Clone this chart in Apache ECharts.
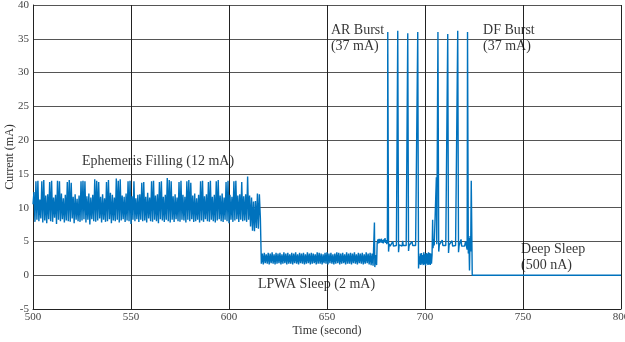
<!DOCTYPE html>
<html><head><meta charset="utf-8">
<script src="https://cdn.jsdelivr.net/npm/echarts@6/dist/echarts.min.js"></script>
<style>html,body{margin:0;padding:0;background:#fff}#c{width:625px;height:342px}</style>
</head><body><div id="c"></div>
<script>
// Tick labels
const xTicks = [500, 550, 600, 650, 700, 750, 800];
const yTicks = [-5, 0, 5, 10, 15, 20, 25, 30, 35, 40];

const ephemerisStart = 500, ephemerisStep = 0.5;
const ephemerisMA = [
10.5,12.3,7.9,13.9,8.2,14.0,8.0,11.2,8.4,13.9,7.8,14.1,
8.1,11.8,7.7,12.0,8.3,13.8,8.0,14.0,7.9,11.5,8.5,11.9,
7.6,14.0,8.2,13.9,8.0,12.1,8.3,11.4,7.8,11.9,8.1,13.8,
8.0,14.1,7.9,13.7,8.4,11.6,7.7,12.0,8.2,11.3,8.0,11.8,
7.9,13.9,8.1,14.0,8.3,13.9,7.8,11.7,8.2,12.1,7.5,11.5,
8.3,11.9,8.0,14.2,7.9,14.0,8.1,13.8,8.4,11.6,7.8,12.0,
8.2,11.4,7.9,13.8,8.0,14.1,8.3,12.2,7.7,11.9,8.1,11.5,
8.0,14.3,8.2,14.0,7.8,14.2,8.1,11.8,8.3,11.6,7.9,12.1,
8.1,13.9,8.0,14.0,7.6,11.7,8.2,13.9,8.0,11.4,8.3,11.9,
7.9,12.0,8.2,13.7,8.0,13.8,8.1,11.6,7.8,12.2,8.4,11.5,
8.0,13.9,7.9,14.0,8.2,11.8,8.0,12.0,7.7,13.8,8.3,13.9,
8.1,11.6,7.9,11.9,8.2,14.4,8.0,14.1,7.8,13.9,8.2,11.7,
7.9,12.0,8.3,11.5,8.0,13.8,7.9,14.0,8.2,11.9,8.1,11.6,
7.8,13.9,8.2,14.1,8.0,13.7,8.3,11.8,7.9,12.1,8.0,11.4,
8.2,11.9,7.8,13.9,8.1,14.0,7.9,11.7,8.3,12.0,8.0,13.8,
7.9,14.0,8.2,11.6,8.0,11.9,7.8,13.9,8.1,14.1,8.3,11.8,
8.0,12.1,7.9,11.5,8.2,13.8,8.0,14.0,7.7,11.9,8.2,11.6,
7.9,13.9,8.1,14.0,8.3,11.8,7.9,12.0,8.2,13.8,8.0,11.7,
8.1,12.0,7.9,14.6,8.2,11.8,7.2,11.5,6.6,10.9,6.5,11.0,
7.0,12.1,6.9,12.0,8.5
];

// LPWA sleep: sampled every 0.5 s from 616.5 s
const lpwaStart = 616.5, lpwaStep = 0.5;
const lpwaMA = [
1.7,3.2,1.6,3.3,1.8,3.1,1.7,3.3,1.6,3.2,
1.8,3.4,1.7,3.1,1.6,3.3,1.7,3.2,1.8,3.3,
1.6,3.1,1.7,3.4,1.8,3.2,1.6,3.3,1.7,3.1,
1.7,3.3,1.6,3.2,1.8,3.4,1.7,3.1,1.6,3.3,
1.8,3.2,1.7,3.3,1.6,3.1,1.7,3.4,1.8,3.2,
1.6,3.3,1.7,3.2,1.8,3.1,1.6,3.4,1.7,3.3,
1.7,3.2,1.6,3.1,1.8,3.3,1.7,3.4,1.6,3.2,
1.8,3.3,1.7,3.1,1.6,3.2,1.7,3.4,1.8,3.3,
1.6,3.2,1.7,3.3,1.8,3.1,1.6,3.4,1.7,3.2,
1.7,3.3,1.6,3.2,1.8,3.4,1.7,3.1,1.6,3.3,
1.8,3.2,1.7,3.3,1.6,3.1,1.7,3.4,1.8,3.2,
1.6,3.3,1.5,3.2,1.4
];

// Bursts and deep sleep: explicit (time s, current mA) readings
const burstTimes = [
674.0,674.2,674.4,674.8,675.3,675.6,676.0,676.3,676.6,676.9,677.2,677.5,677.8,678.1,678.4,678.7,679.0,679.3,679.6,679.9,680.2,680.5,680.8,
680.9,681.0,681.25,681.4,681.7,682.2,682.7,683.2,683.6,683.9,684.4,684.9,685.4,685.9,
686.1,686.3,686.5,686.8,687.3,687.8,688.3,688.6,688.9,689.4,689.9,690.4,691.0,
691.2,691.4,691.6,691.9,692.4,692.9,693.4,693.7,694.2,694.7,695.2,695.7,696.0,
696.3,696.5,696.7,697.0,697.3,697.6,697.9,698.2,698.5,698.8,699.1,699.4,699.7,700.0,700.3,700.6,700.9,701.2,701.5,701.8,702.1,702.4,702.7,703.0,703.3,703.6,
703.9,704.1,704.4,704.7,705.2,705.5,705.8,706.0,706.4,
706.6,706.8,707.0,707.3,707.8,708.3,708.8,709.1,709.6,710.1,710.6,711.2,
711.6,711.8,712.0,712.3,712.8,713.3,713.8,714.1,714.6,715.1,715.6,716.2,
716.7,716.9,717.1,717.4,717.9,718.4,718.7,719.2,719.7,720.2,720.7,721.1,721.5,
721.7,721.9,722.1,722.4,722.7,723.0,723.3,723.6,723.8,724.0,724.1,800.0
];
const burstMA = [
1.6,7.8,1.2,3.0,1.5,4.8,5.3,4.7,5.4,4.8,5.3,4.9,5.4,4.8,5.2,4.7,5.3,4.9,5.5,4.8,5.2,4.6,5.1,
14.5,36.0,36.0,3.5,4.6,4.3,4.5,4.4,5.0,4.3,4.5,4.4,4.4,4.5,
36.2,36.0,3.4,4.5,4.4,4.6,4.3,5.1,4.4,4.5,4.3,4.4,4.5,
35.8,35.9,3.6,4.4,4.5,4.3,5.0,4.4,4.5,4.3,4.4,4.5,4.3,
36.0,35.9,1.0,2.8,1.6,3.2,1.5,3.3,1.7,3.0,1.5,3.4,1.6,3.1,1.4,3.3,1.7,3.2,1.5,3.4,1.6,3.3,1.5,3.2,1.7,3.0,
8.2,4.0,5.3,4.4,4.5,4.4,14.5,4.6,4.4,
36.0,36.1,3.5,4.5,4.4,4.6,5.2,4.4,4.3,4.5,4.4,4.5,
35.7,35.6,3.3,4.5,4.4,4.5,5.1,4.3,4.4,4.5,4.4,4.3,
36.2,36.1,3.4,4.4,4.5,5.3,4.3,4.4,4.5,4.3,5.0,4.4,3.8,
36.0,36.0,3.2,5.5,0.7,5.8,3.5,14.0,14.0,3.0,0.0,0.0
];

// Annotations: text, anchor time (s), anchor current (mA) at left-middle of text
const noteTexts = ['Ephemeris Filling (12 mA)', 'LPWA Sleep (2 mA)', 'AR Burst\n(37 mA)', 'DF Burst\n(37 mA)', 'Deep Sleep\n(500 nA)'];
const noteT = [525, 614.8, 652.0, 729.6, 749.0];
const noteMA = [16.85, -1.4, 35.1, 35.1, 2.7];

const points = [];
ephemerisMA.forEach((v, i) => points.push([ephemerisStart + i * ephemerisStep, v]));
lpwaMA.forEach((v, i) => points.push([lpwaStart + i * lpwaStep, v]));
burstMA.forEach((v, i) => points.push([burstTimes[i], v]));

const notes = noteTexts.map((t, i) => ({ value: [noteT[i], noteMA[i]], name: t }));

const serif = '"Liberation Serif", "Times New Roman", serif';
const chart = echarts.init(document.getElementById('c'), null, { renderer: 'canvas' });
chart.setOption({
  animation: false,
  backgroundColor: '#fff',
  grid: { left: 33, right: 4, top: 5, bottom: 33, containLabel: false, outerBoundsMode: 'none' },
  xAxis: {
    type: 'value', min: xTicks[0], max: xTicks[xTicks.length - 1], interval: 50,
    name: 'Time (second)', nameLocation: 'middle', nameGap: 16, nameMoveOverlap: false,
    nameTextStyle: { fontFamily: serif, fontSize: 12, color: '#333' },
    axisLine: { show: true, onZero: false, lineStyle: { color: '#222', width: 1 } },
    axisTick: { show: false },
    axisLabel: { fontFamily: serif, fontSize: 11, color: '#444', margin: 3 },
    splitLine: { show: true, lineStyle: { color: '#222', width: 1 } }
  },
  yAxis: {
    type: 'value', min: yTicks[0], max: yTicks[yTicks.length - 1], interval: 5,
    name: 'Current (mA)', nameLocation: 'middle', nameGap: 17, nameMoveOverlap: false,
    nameTextStyle: { fontFamily: serif, fontSize: 12, color: '#333' },
    axisLine: { show: true, onZero: false, lineStyle: { color: '#222', width: 1 } },
    axisTick: { show: false },
    axisLabel: { fontFamily: serif, fontSize: 11, color: '#444', margin: 4 },
    splitLine: { show: true, lineStyle: { color: '#555', width: 1 } }
  },
  series: [
    {
      type: 'line', data: points, showSymbol: false, symbol: 'none', sampling: null,
      lineStyle: { color: '#0072BD', width: 1.4 }, itemStyle: { color: '#0072BD' },
      silent: true, clip: true
    },
    {
      type: 'scatter', data: notes, symbolSize: 0, silent: true,
      label: {
        show: true, position: 'inside', align: 'left', verticalAlign: 'middle',
        formatter: p => p.name, fontFamily: serif, fontSize: 14, color: '#000', lineHeight: 16
      }
    }
  ]
});
</script>
</body></html>
